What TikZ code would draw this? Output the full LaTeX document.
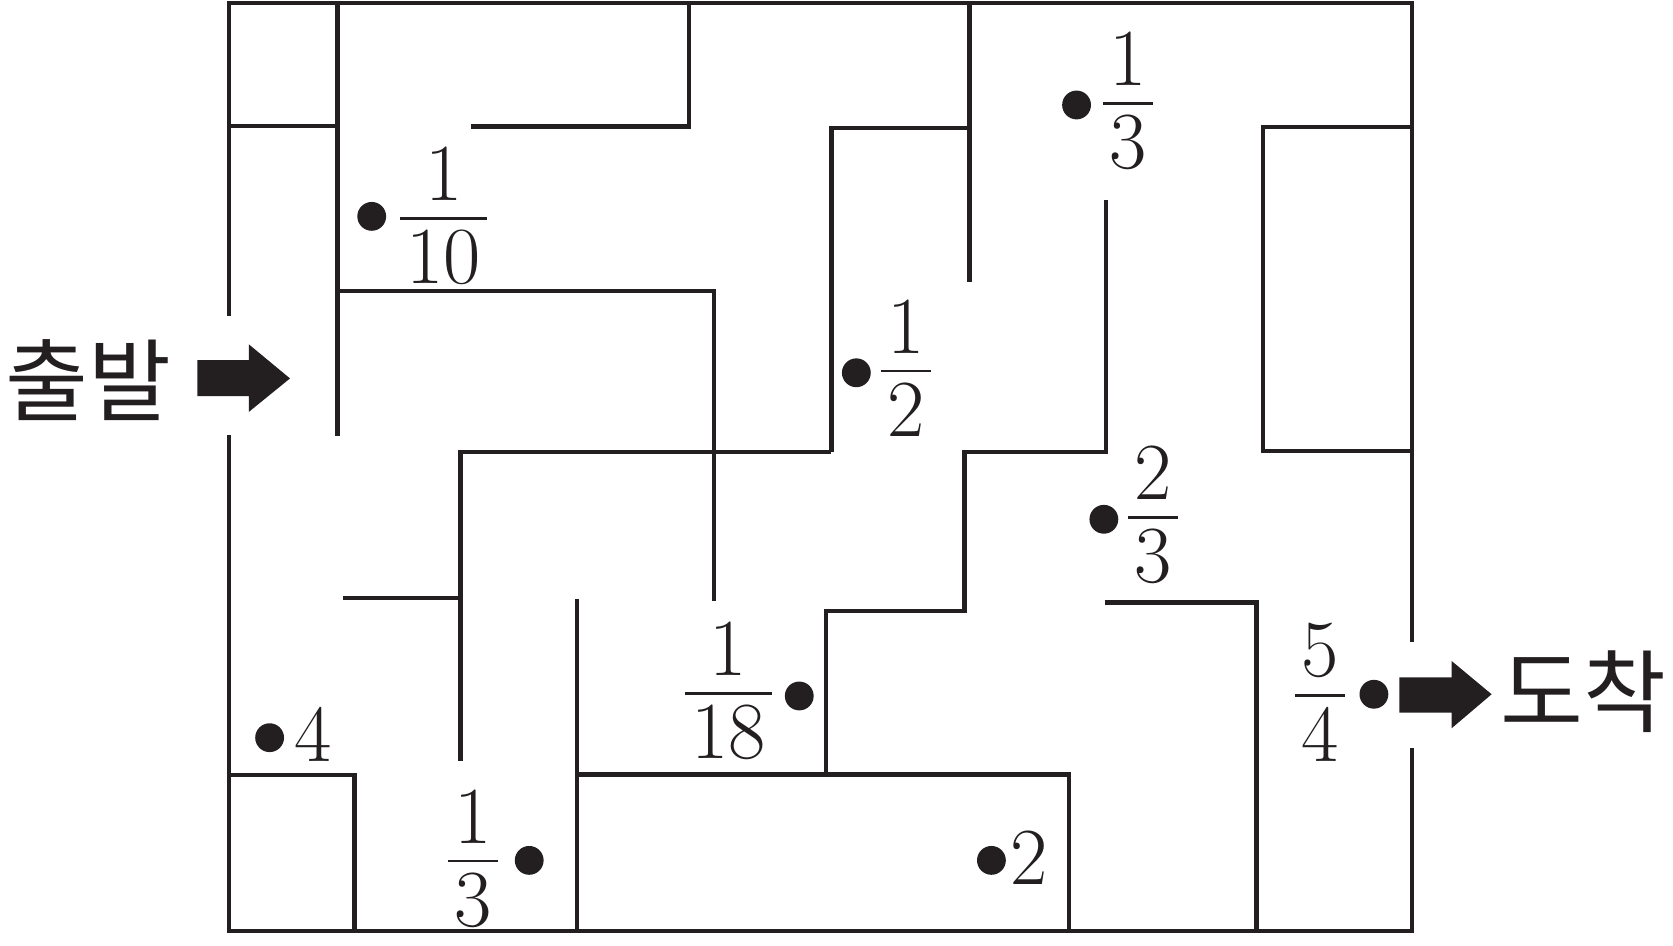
\documentclass[tikz,border=0pt]{standalone}
\usepackage{fontspec}
\newfontfamily\krfont{Noto Sans CJK KR}
\definecolor{ink}{RGB}{35,31,32}
\newcommand\myfr[2]{%
  \setbox0=\hbox{#1}\setbox2=\hbox{#2}%
  \dimen0=\wd0 \ifdim\wd2>\dimen0 \dimen0=\wd2 \fi
  \advance\dimen0 by 3.4pt
  \hbox{\vbox{\hbox to\dimen0{\hss\box0\hss}\kern4.7pt}%
    \kern-\dimen0
    \vtop{\hrule height0.37pt depth0.37pt width\dimen0\kern2.73pt\hbox to\dimen0{\hss\box2\hss}}}}
\tikzset{
  wall/.style={draw=ink, line width=1.15pt, line join=miter},
  dot/.style={circle, fill=ink, inner sep=0pt, minimum size=0.27cm},
  num/.style={inner sep=0pt, text=ink, font=\fontsize{21.6}{26}\selectfont, anchor=base},
  kr/.style={inner sep=0pt, text=ink, font=\krfont\fontsize{24}{28}\selectfont},
  blockarrow/.style={fill=ink}
}
\begin{document}
\begin{tikzpicture}[x=0.01cm, y=-0.01cm]
\path[use as bounding box, fill=white] (0,0) rectangle (1568,886.6);
% outer border
\draw[wall] (214.9,296) -- (214.9,3.1) -- (1323.6,3.1) -- (1323.6,601.4);
\draw[wall] (214.9,408) -- (214.9,872.8) -- (1323.6,872.8) -- (1323.6,701.3);
% inner walls
\draw[wall] (214.9,118.1) -- (316.3,118.1);
\draw[wall] (316.3,3.1) -- (316.3,409);
\draw[wall] (441.8,118.5) -- (646,118.5) -- (646,3.1);
\draw[wall] (316.3,273) -- (669.4,273) -- (669.4,563.3);
\draw[wall] (908.7,3.1) -- (908.7,264);
\draw[wall] (779.2,423.4) -- (779.2,120.3) -- (908.7,120.3);
\draw[wall] (431.7,713.3) -- (431.7,423.4) -- (779.2,423.4);
\draw[wall] (321.3,560.8) -- (431.7,560.8);
\draw[wall] (1036.8,187.5) -- (1036.8,423.4) -- (904,423.4) -- (904,572.6) -- (774.2,572.6) -- (774.2,725.8);
\draw[wall] (541.1,561.7) -- (541.1,872.8);
\draw[wall] (541.1,725.8) -- (1002.1,725.8) -- (1002.1,872.8);
\draw[wall] (214.9,726.4) -- (332.3,726.4) -- (332.3,872.8);
\draw[wall] (1035.3,564.8) -- (1177.5,564.8) -- (1177.5,872.8);
\draw[wall] (1323.6,118.75) -- (1183.7,118.75) -- (1183.7,422.5) -- (1323.6,422.5);
% dots and values
\node[dot] (d1) at (348.4,202.8) {};
\node[num] (v1) at (416,204.7) {\myfr{1}{10}};
\node[dot] (d2) at (1009,98.4) {};
\node[num] (v2) at (1057.5,96.9) {\myfr{1}{3}};
\node[dot] (d3) at (802.6,349.4) {};
\node[num] (v3) at (849,347.8) {\myfr{1}{2}};
\node[dot] (d4) at (1034.6,486.7) {};
\node[num] (v4) at (1080.8,485.1) {\myfr{2}{3}};
\node[dot] (d5) at (749.1,652.3) {};
\node[num] (v5) at (682.6,650.1) {\myfr{1}{18}};
\node[dot] (d6) at (252.7,691.4) {};
\node[num] (v6) at (293,713.3) {4};
\node[dot] (d7) at (496,806.4) {};
\node[num] (v7) at (443.4,807) {\myfr{1}{3}};
\node[dot] (d8) at (929.2,806.4) {};
\node[num] (v8) at (964.6,829) {2};
\node[dot] (d9) at (1287.7,650.7) {};
\node[num] (v9) at (1237.5,651.7) {\myfr{5}{4}};
% start / finish
\node[kr] (start) at (83,356) {출발};
\node[kr] (goal) at (1484,648.5) {도착};
\fill[blockarrow] (185,337.5) -- (233.3,337.5) -- (233.3,322.8) -- (271.8,354.7) -- (233.3,386) -- (233.3,371.3) -- (185,371.3) -- cycle;
\fill[blockarrow] (1311.5,634.8) -- (1360.5,634.8) -- (1360.5,619.5) -- (1398,650.7) -- (1360.5,682.6) -- (1360.5,668) -- (1311.5,668) -- cycle;
\end{tikzpicture}
\end{document}
